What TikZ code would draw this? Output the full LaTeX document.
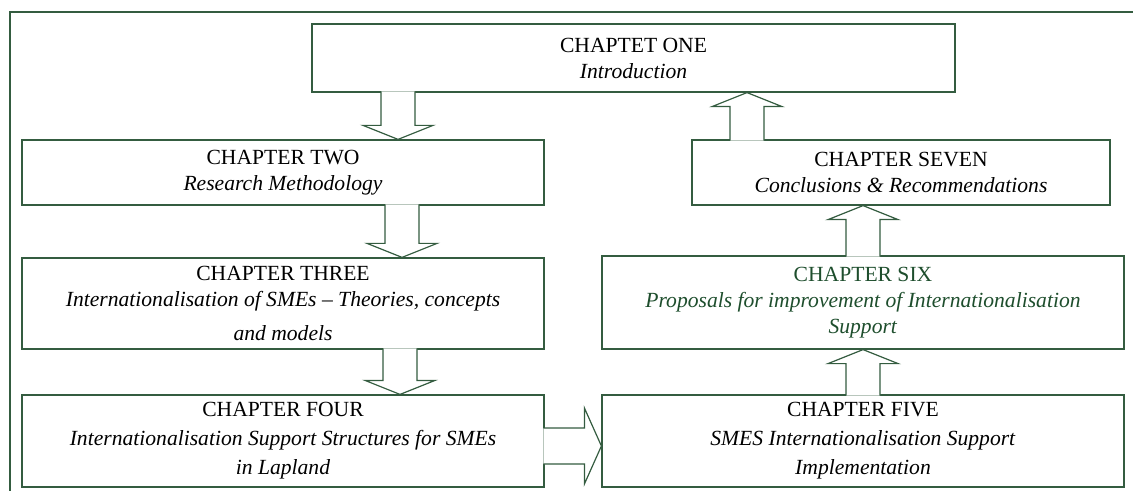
\documentclass[tikz,border=0pt]{standalone}
\usepackage{fontspec}
\setmainfont{Liberation Serif}
\usetikzlibrary{calc}

\definecolor{linegreen}{RGB}{52,92,64}
\definecolor{sixgreen}{RGB}{30,78,45}

% block arrow, vertical: x (px), from anchor, to anchor
\newcommand{\vblk}[3]{%
  \filldraw[blk] let \p1=(#2), \p2=(#3), \n1={sign(\y2-\y1)} in
    ({#1*0.5pt-8.5pt},{\y1-\n1*0.6pt}) -- ({#1*0.5pt-8.5pt},{\y2-\n1*7pt})
    -- ({#1*0.5pt-17.5pt},{\y2-\n1*7pt}) -- ({#1*0.5pt},\y2)
    -- ({#1*0.5pt+17.5pt},{\y2-\n1*7pt}) -- ({#1*0.5pt+8.5pt},{\y2-\n1*7pt})
    -- ({#1*0.5pt+8.5pt},{\y1-\n1*0.6pt});}
% block arrow, horizontal: y (px), from anchor, to anchor
\newcommand{\hblk}[3]{%
  \filldraw[blk] let \p1=(#2), \p2=(#3) in
    ({\x1-0.6pt},{-#1*0.5pt+9pt}) -- ({\x2-8.5pt},{-#1*0.5pt+9pt})
    -- ({\x2-8.5pt},{-#1*0.5pt+19pt}) -- (\x2,{-#1*0.5pt})
    -- ({\x2-8.5pt},{-#1*0.5pt-19pt}) -- ({\x2-8.5pt},{-#1*0.5pt-9pt})
    -- ({\x1-0.6pt},{-#1*0.5pt-9pt});}

\begin{document}
\begin{tikzpicture}[x=0.5pt,y=-0.5pt,
  chap/.style={draw=linegreen,line width=0.6pt,rectangle,inner sep=0pt,align=center,
    font=\fontsize{10.8pt}{13pt}\selectfont},
  blk/.style={draw=linegreen,fill=white,line width=0.6pt,line join=miter}]
\useasboundingbox (0,0) rectangle (1133,491);
\draw[linegreen,line width=0.6pt] (10,491) -- (10,12) -- (1133,12);

\node[chap,minimum width=321.5pt,minimum height=34pt] (one) at (633.5,58)
  {CHAPTET ONE\\ \textit{Introduction}};
\node[chap,minimum width=261pt,minimum height=32.5pt] (two) at (283,172.5)
  {CHAPTER TWO\\ \textit{Research Methodology}};
\node[chap,minimum width=261pt,minimum height=45.5pt] (three) at (283,303.5)
  {CHAPTER THREE\\ \textit{Internationalisation of SMEs -- Theories, concepts}\\[4pt] \textit{and models}};
\node[chap,minimum width=261pt,minimum height=46pt] (four) at (283,441)
  {CHAPTER FOUR\\[1.5pt] \textit{Internationalisation Support Structures for SMEs}\\[1.5pt] \textit{in Lapland}};
\node[chap,minimum width=261pt,minimum height=46pt] (five) at (863,441)
  {CHAPTER FIVE\\[1.5pt] \textit{SMES Internationalisation Support}\\[1.5pt] \textit{Implementation}};
\node[chap,minimum width=261pt,minimum height=46.5pt,text=sixgreen] (six) at (863,302.5)
  {CHAPTER SIX\\ \textit{Proposals for improvement of Internationalisation}\\ \textit{Support}};
\node[chap,minimum width=209pt,minimum height=32.5pt] (seven) at (901,172.5)
  {CHAPTER SEVEN\\ \textit{Conclusions \& Recommendations}};

% arrows
\vblk{398}{one.south}{two.north}
\vblk{402}{two.south}{three.north}
\vblk{400}{three.south}{four.north}
\hblk{446}{four.east}{five.west}
\vblk{863}{five.north}{six.south}
\vblk{863}{six.north}{seven.south}
\vblk{747}{seven.north}{one.south}
\end{tikzpicture}
\end{document}
